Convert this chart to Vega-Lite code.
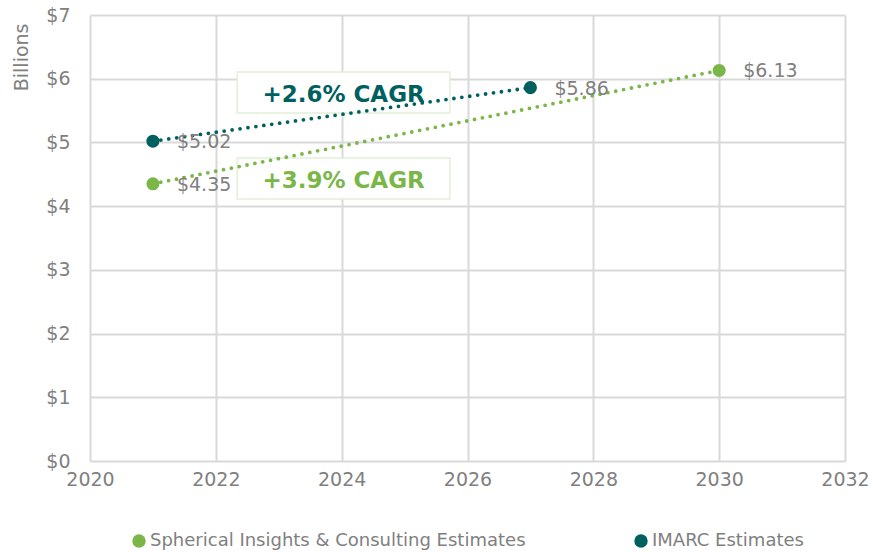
{
  "$schema": "https://vega.github.io/schema/vega-lite/v6.json",
  "width": 755,
  "height": 446,
  "autosize": {"type": "none"},
  "padding": {"left": 90, "top": 15, "right": 28, "bottom": 91},
  "background": "white",
  "config": {
    "font": "DejaVu Sans",
    "view": {"stroke": null}
  },
  "datasets": {
    "series": [
      {"year": 2021, "value": 4.35, "series": "Spherical Insights & Consulting Estimates", "label": "$4.35"},
      {"year": 2030, "value": 6.13, "series": "Spherical Insights & Consulting Estimates", "label": "$6.13"},
      {"year": 2021, "value": 5.02, "series": "IMARC Estimates", "label": "$5.02"},
      {"year": 2027, "value": 5.86, "series": "IMARC Estimates", "label": "$5.86"}
    ],
    "boxes": [
      {"x1": 2022.34, "x2": 2025.72, "y1": 5.46, "y2": 6.106, "xc": 2024.03, "yc": 5.745, "text": "+2.6% CAGR", "series": "IMARC Estimates"},
      {"x1": 2022.34, "x2": 2025.72, "y1": 4.112, "y2": 4.756, "xc": 2024.03, "yc": 4.40, "text": "+3.9% CAGR", "series": "Spherical Insights & Consulting Estimates"}
    ]
  },
  "layer": [
    {
      "data": {"name": "boxes"},
      "mark": {"type": "rect", "fill": "white", "stroke": "#e2efd9", "strokeWidth": 1.5},
      "encoding": {
        "x": {"field": "x1", "type": "quantitative", "scale": {"domain": [2020, 2032]}, "axis": {"values": [2020, 2022, 2024, 2026, 2028, 2030, 2032], "format": "d", "labelPadding": 9, "labelFlush": false, "labelBound": false, "title": null, "grid": true, "gridColor": "#d9d9d9", "gridWidth": 2, "domain": false, "ticks": false, "labelColor": "#808080", "labelFontSize": 19, "labelFont": "DejaVu Sans"}},
        "x2": {"field": "x2"},
        "y": {"field": "y1", "type": "quantitative", "scale": {"domain": [0, 7]}, "axis": {"values": [0, 1, 2, 3, 4, 5, 6, 7], "format": "$d", "labelPadding": 20, "labelFlush": false, "labelBound": false, "title": "Billions", "titleFontSize": 19, "titleFontWeight": "normal", "titleColor": "#808080", "titleFont": "DejaVu Sans", "titleAnchor": "end", "titleY": 8, "titleAlign": "right", "titlePadding": 14, "grid": true, "gridColor": "#d9d9d9", "gridWidth": 2, "domain": false, "ticks": false, "labelColor": "#808080", "labelFontSize": 19, "labelFont": "DejaVu Sans"}},
        "y2": {"field": "y2"}
      }
    },
    {
      "data": {"name": "boxes"},
      "mark": {"type": "text", "fontSize": 23, "fontWeight": "bold", "font": "DejaVu Sans"},
      "encoding": {
        "x": {"field": "xc", "type": "quantitative"},
        "y": {"field": "yc", "type": "quantitative"},
        "text": {"field": "text"},
        "color": {"field": "series", "type": "nominal"}
      }
    },
    {
      "data": {"name": "series"},
      "mark": {"type": "line", "strokeDash": [0, 8], "strokeCap": "round", "strokeWidth": 3.8},
      "encoding": {
        "x": {"field": "year", "type": "quantitative"},
        "y": {"field": "value", "type": "quantitative"},
        "color": {"field": "series", "type": "nominal"}
      }
    },
    {
      "data": {"name": "series"},
      "mark": {"type": "circle", "size": 170, "opacity": 1},
      "encoding": {
        "x": {"field": "year", "type": "quantitative"},
        "y": {"field": "value", "type": "quantitative"},
        "color": {
          "field": "series", "type": "nominal",
          "scale": {"domain": ["Spherical Insights & Consulting Estimates", "IMARC Estimates"], "range": ["#7ab648", "#00605f"]},
          "legend": {"title": null, "orient": "none", "direction": "horizontal", "legendX": 40, "legendY": 517, "symbolType": "circle", "symbolSize": 180, "labelFontSize": 18, "labelColor": "#808080", "labelFont": "DejaVu Sans", "labelOffset": 2, "columnPadding": 106, "symbolStrokeWidth": 0, "labelLimit": 500}
        }
      }
    },
    {
      "data": {"name": "series"},
      "mark": {"type": "text", "align": "left", "dx": 24, "dy": 1, "fontSize": 19, "color": "#808080", "font": "DejaVu Sans"},
      "encoding": {
        "x": {"field": "year", "type": "quantitative"},
        "y": {"field": "value", "type": "quantitative"},
        "text": {"field": "label"}
      }
    }
  ]
}
